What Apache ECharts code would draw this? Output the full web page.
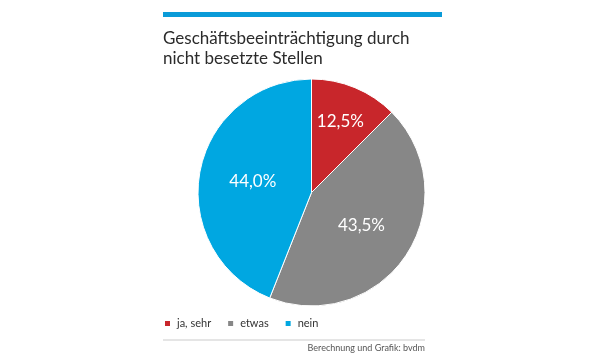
<!DOCTYPE html>
<html><head><meta charset="utf-8">
<script src="https://cdn.jsdelivr.net/npm/echarts@6/dist/echarts.min.js"></script>
<style>html,body{margin:0;padding:0;background:#fff}#c{width:600px;height:364px}</style>
</head><body><div id="c"></div>
<script>
const categories = ['ja, sehr', 'etwas', 'nein'];
const values = [12.5, 43.5, 44.0];
const colors = ['#c8262b', '#878787', '#00a7e1'];
const titleText = 'Geschäftsbeeinträchtigung durch\nnicht besetzte Stellen';
const sourceText = 'Berechnung und Grafik: bvdm';

const chart = echarts.init(document.getElementById('c'), null, {renderer: 'canvas'});
const fmt = v => v.toFixed(1).replace('.', ',') + '%';
chart.setOption({
  animation: false,
  backgroundColor: '#fff',
  title: [{
    text: titleText, left: 163, top: 29, padding: 0,
    textStyle: {fontFamily: 'Lato', fontSize: 17, fontWeight: 'normal', color: '#2b2b2b', lineHeight: 20}
  }, {
    text: sourceText, right: 175, top: 344, padding: 0,
    textStyle: {fontFamily: 'Lato', fontSize: 9, fontWeight: 'normal', color: '#555'}
  }],
  graphic: [
    {type: 'rect', shape: {x: 163, y: 12, width: 279, height: 5}, style: {fill: '#0a9bd8'}},
    {type: 'rect', shape: {x: 163, y: 339.5, width: 262, height: 1}, style: {fill: '#cccccc'}}
  ],
  legend: {
    data: categories, left: 163, top: 318, padding: 0, icon: 'rect', itemWidth: 7, itemHeight: 7, itemGap: 15,
    textStyle: {fontFamily: 'Lato', fontSize: 11, color: '#333', padding: [0, 0, 0, 1]}
  },
  series: [{
    type: 'pie', center: [311.5, 192.5], radius: [0, 113.5], startAngle: 90, clockwise: true,
    itemStyle: {borderColor: '#fff', borderWidth: 1},
    label: {show: true, position: 'inside', color: '#fff', fontFamily: 'Lato', fontSize: 17,
      formatter: p => fmt(p.value)},
    labelLine: {show: false},
    emphasis: {disabled: true},
    data: categories.map((c, i) => ({
      name: c, value: values[i], itemStyle: {color: colors[i]},
      label: i === 0 ? {offset: [6, -16]} : {}
    }))
  }]
});
</script></body></html>
